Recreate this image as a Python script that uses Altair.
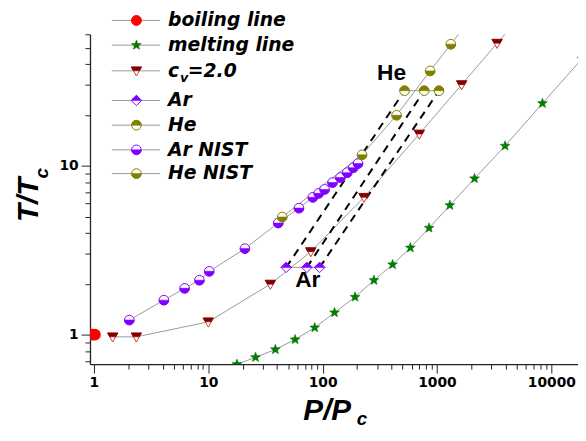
import math
import altair as alt
import pandas as pd

# ---------------- data ----------------
boil_p = [0.97, 1.02]
boil_t = [1.0, 1.0]

melt_p = [17.8, 25.9, 38.6, 57.4, 85.3, 127, 192, 281, 409, 585, 853, 1295, 2128, 3936, 8360, 18500]
melt_t = [0.668, 0.734, 0.817, 0.935, 1.10, 1.35, 1.67, 2.10, 2.60, 3.27, 4.28, 5.83, 8.40, 13.1, 23.4, 42.9]

cv_p = [1.46, 2.35, 10.0, 34.9, 78.8, 230, 700, 1643, 3355, 4800]
cv_t = [0.97, 0.97, 1.19, 1.99, 3.10, 6.50, 15.4, 30.2, 53.1, 70.5]

ar_p = [48.0, 72.8, 94.2]
ar_t = [2.5, 2.5, 2.5]

he_p = [520, 773, 1041]
he_t = [27.8, 27.8, 27.8]

arn_p = [2.04, 4.09, 6.21, 8.37, 10.2, 20.9, 40.9, 62.1, 82.0, 92.4, 104, 122, 143, 164, 185, 204]
arn_t = [1.22, 1.60, 1.88, 2.10, 2.37, 3.23, 4.58, 5.61, 6.50, 6.86, 7.24, 7.95, 8.51, 9.10, 9.73, 10.3]

hen_p = [44.3, 221, 443, 871, 1321, 1850]
hen_t = [4.97, 11.6, 19.9, 36.4, 52.4, 70.5]

legend_labels = ["boiling line", "melting line", "c", "Ar", "He", "Ar NIST", "He NIST"]
annot_text = ["He", "Ar"]
annot_p = [401, 74.2]
annot_t = [35.4, 2.10]

x_major = [1, 10, 100, 1000, 10000]
y_major = [1, 10]

# ---------------- styling ----------------
PURPLE = "#8000ff"
OLIVE = "#808000"
DRED = "#800000"
RED_OUT = "#c83c3c"
GREEN = "#008000"
RED = "#ff0000"
LINE_GRAY = "#999999"

TOP_HALF = "M -1 0 A 1 1 0 0 1 1 0 Z"
BOT_HALF = "M -1 0 A 1 1 0 0 0 1 0 Z"
TRI_FULL = "M -1 -0.75 L 1 -0.75 L 0 1 Z"
TRI_TOP = "M -1 -0.75 L 1 -0.75 L 0.57 0 L -0.57 0 Z"
DIA_FULL = "M 0 -1 L 1 0 L 0 1 L -1 0 Z"
DIA_TOP = "M -1 0 L 0 -1 L 1 0 Z"
_pts = []
for k in range(10):
    r = 1.0 if k % 2 == 0 else 0.42
    a = math.radians(-90 + 36 * k)
    _pts.append(f"{r*math.cos(a):.3f} {r*math.sin(a):.3f}")
STAR = "M " + " L ".join(_pts) + " Z"

x_ticks = [m * 10 ** e for e in range(0, 5) for m in range(1, 10) if m * 10 ** e <= 17000]
y_ticks = [0.7, 0.8, 0.9] + [m * 10 ** e for e in range(0, 2) for m in range(1, 10)] + [20, 30, 40, 50, 60]

axis_common = dict(
    grid=False, title=None, labelFont="DejaVu Sans", labelFontWeight="bold",
    labelFontSize=14, labelColor="black", domainColor="#222222", domainWidth=1.3,
    tickColor="#222222", tickWidth=1, labelPadding=3, labelOverlap=False,
    labelFlush=False,
)

X = alt.X("p:Q", scale=alt.Scale(type="log", domain=[0.924, 17100], nice=False),
          axis=alt.Axis(values=x_ticks,
                        labelExpr="indexof([1,10,100,1000,10000], datum.value) >= 0 ? '' + datum.value : ''",
                        tickSize={"condition": {"test": "indexof([1,10,100,1000,10000], datum.value) >= 0", "value": 9}, "value": 5},
                        **axis_common))
Y = alt.Y("t:Q", scale=alt.Scale(type="log", domain=[0.668, 60], nice=False),
          axis=alt.Axis(values=y_ticks,
                        labelExpr="(datum.value == 1 || datum.value == 10) ? '' + datum.value : ''",
                        tickSize={"condition": {"test": "datum.value == 1 || datum.value == 10", "value": 9}, "value": 5},
                        **axis_common))


def df_of(ps, ts):
    return pd.DataFrame({"p": ps, "t": ts})


def line(ps, ts):
    return alt.Chart(df_of(ps, ts)).mark_line(color=LINE_GRAY, strokeWidth=1, clip=True).encode(x=X, y=Y)


def half_markers(ps, ts, full, half, color, outline, size=95):
    base = alt.Chart(df_of(ps, ts)).encode(x=X, y=Y)
    a = base.mark_point(shape=full, filled=True, fill="white", stroke=outline, strokeWidth=1,
                        size=size, opacity=1, clip=True)
    b = base.mark_point(shape=half, filled=True, fill=color, stroke=color, strokeWidth=0.6,
                        size=size, opacity=1, clip=True)
    return a + b


layers = []
# connecting lines
for ps, ts in [(melt_p, melt_t), (cv_p, cv_t), (ar_p, ar_t), (he_p, he_t), (arn_p, arn_t), (hen_p, hen_t)]:
    layers.append(line(ps, ts))

# dashed Ar -> He connections
dash_df = pd.DataFrame({
    "p": ar_p + he_p,
    "t": ar_t + he_t,
    "pair": list(range(3)) + list(range(3)),
})
layers.append(alt.Chart(dash_df).mark_line(color="black", strokeWidth=2, strokeDash=[8, 6], clip=True)
              .encode(x=X, y=Y, detail="pair:N"))

# markers
layers.append(alt.Chart(df_of(boil_p, boil_t)).mark_point(shape="circle", filled=True, fill=RED, stroke=RED,
                                                           size=100, opacity=1, clip=True).encode(x=X, y=Y))
layers.append(alt.Chart(df_of(melt_p, melt_t)).mark_point(shape=STAR, filled=True, fill=GREEN, stroke="#006400",
                                                           strokeWidth=0.5, size=110, opacity=1, clip=True).encode(x=X, y=Y))
layers.append(half_markers(arn_p, arn_t, "circle", BOT_HALF, PURPLE, PURPLE))
layers.append(half_markers(hen_p, hen_t, "circle", BOT_HALF, OLIVE, OLIVE))
layers.append(half_markers(cv_p, cv_t, TRI_FULL, TRI_TOP, DRED, RED_OUT, size=110))
layers.append(half_markers(ar_p, ar_t, DIA_FULL, DIA_TOP, PURPLE, PURPLE, size=110))
layers.append(half_markers(he_p, he_t, "circle", TOP_HALF, OLIVE, OLIVE))

# annotations He / Ar
annot_df = pd.DataFrame({"p": annot_p, "t": annot_t, "txt": annot_text})
layers.append(alt.Chart(annot_df).mark_text(font="Liberation Sans", fontWeight="bold", fontSize=23,
                                            color="black", align="center", baseline="middle")
              .encode(x=X, y=Y, text="txt:N"))

# ---------------- manual legend ----------------
row_y = [-14, 11, 37, 67, 92, 117, 141]
LX1, LX2, MX, TX = 22, 71, 47, 79
leg_font = dict(font="DejaVu Sans", fontWeight="bold", fontStyle="italic", fontSize=19,
                color="black", align="left", baseline="middle")
one = pd.DataFrame({"k": [0]})


def leg_point(y, shape, fill, stroke, size=95, sw=1):
    return alt.Chart(one).mark_point(shape=shape, filled=True, fill=fill, stroke=stroke, strokeWidth=sw,
                                     size=size, opacity=1).encode(x=alt.value(MX), y=alt.value(y))


marker_specs = [
    [("circle", RED, RED, 100, 1)],
    [(STAR, GREEN, "#006400", 110, 0.5)],
    [(TRI_FULL, "white", RED_OUT, 110, 1), (TRI_TOP, DRED, DRED, 110, 0.6)],
    [(DIA_FULL, "white", PURPLE, 110, 1), (DIA_TOP, PURPLE, PURPLE, 110, 0.6)],
    [("circle", "white", OLIVE, 95, 1), (TOP_HALF, OLIVE, OLIVE, 95, 0.6)],
    [("circle", "white", PURPLE, 95, 1), (BOT_HALF, PURPLE, PURPLE, 95, 0.6)],
    [("circle", "white", OLIVE, 95, 1), (BOT_HALF, OLIVE, OLIVE, 95, 0.6)],
]

for i, y in enumerate(row_y):
    layers.append(alt.Chart(one).mark_rule(color=LINE_GRAY, strokeWidth=1)
                  .encode(x=alt.value(LX1), x2=alt.value(LX2), y=alt.value(y)))
    for shape, fill, stroke, size, sw in marker_specs[i]:
        layers.append(leg_point(y, shape, fill, stroke, size, sw))
    layers.append(alt.Chart(one).mark_text(**leg_font)
                  .encode(x=alt.value(TX), y=alt.value(y), text=alt.value(legend_labels[i])))

# subscript part of c_v=2.0
layers.append(alt.Chart(one).mark_text(font="DejaVu Sans", fontWeight="bold", fontStyle="italic", fontSize=13,
                                       color="black", align="left", baseline="middle")
              .encode(x=alt.value(91), y=alt.value(row_y[2] + 7), text=alt.value("v")))
layers.append(alt.Chart(one).mark_text(**leg_font)
              .encode(x=alt.value(99), y=alt.value(row_y[2]), text=alt.value("=2.0")))

# ---------------- axis titles ----------------
title_font = dict(font="Liberation Sans", fontWeight="bold", fontStyle="italic", color="black")
layers.append(alt.Chart(one).mark_text(fontSize=30, align="left", baseline="alphabetic", **title_font)
              .encode(x=alt.value(216), y=alt.value(390), text=alt.value("P/P")))
layers.append(alt.Chart(one).mark_text(fontSize=19, align="left", baseline="alphabetic", **title_font)
              .encode(x=alt.value(270), y=alt.value(396), text=alt.value("c")))
layers.append(alt.Chart(one).mark_text(fontSize=30, align="left", baseline="alphabetic", angle=270, **title_font)
              .encode(x=alt.value(-53), y=alt.value(190), text=alt.value("T/T")))
layers.append(alt.Chart(one).mark_text(fontSize=19, align="left", baseline="alphabetic", angle=270, **title_font)
              .encode(x=alt.value(-43), y=alt.value(146), text=alt.value("c")))

chart = alt.layer(*layers).properties(
    width=494, height=334,
    autosize=alt.AutoSizeParams(type="none"),
    padding={"left": 83, "top": 24, "right": 0, "bottom": 66},
    background="white",
).configure_view(strokeWidth=0)

chart.save("out.html", embed_options={"renderer": "svg", "actions": False})
